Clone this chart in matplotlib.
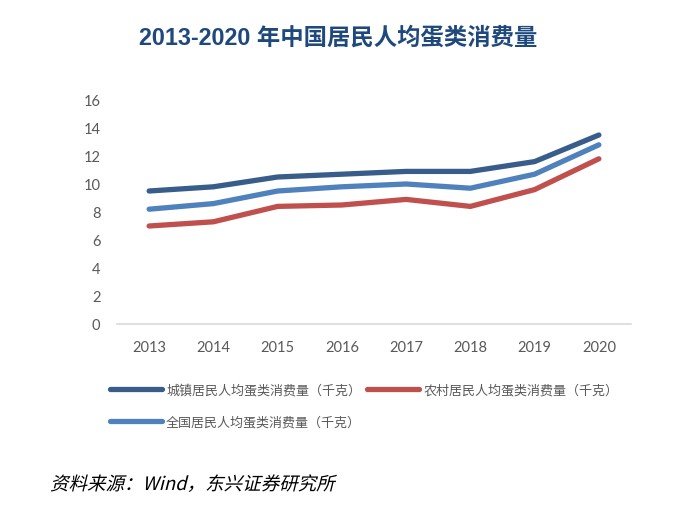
import matplotlib
matplotlib.use('Agg')
import matplotlib.pyplot as plt
from matplotlib.textpath import TextPath
from matplotlib.patches import PathPatch
from matplotlib.font_manager import FontProperties
from matplotlib.transforms import Affine2D

plt.rcParams['font.family'] = ['Noto Sans CJK SC', 'DejaVu Sans']

# data (kg per person)
years = ['2013', '2014', '2015', '2016', '2017', '2018', '2019', '2020']
urban = [9.5, 9.8, 10.5, 10.7, 10.9, 10.9, 11.6, 13.5]
rural = [7.0, 7.3, 8.4, 8.5, 8.9, 8.4, 9.6, 11.8]
national = [8.2, 8.6, 9.5, 9.8, 10.0, 9.7, 10.7, 12.8]
labels = ['城镇居民人均蛋类消费量（千克）', '农村居民人均蛋类消费量（千克）', '全国居民人均蛋类消费量（千克）']
colors = ['#385D8A', '#C0504D', '#4F81BD']
title = '2013-2020 年中国居民人均蛋类消费量'
source = '资料来源：Wind，东兴证券研究所'

W, H = 682, 516
fig = plt.figure(figsize=(W / 100, H / 100), dpi=100)
ax = fig.add_axes([117 / W, 1 - 324 / H, (631 - 117) / W, (324 - 100) / H])

x = list(range(len(years)))
lines = []
for vals, lab, c in zip([urban, rural, national], labels, colors):
    ln, = ax.plot(x, vals, color=c, lw=3.8, solid_capstyle='round', solid_joinstyle='round', label=lab)
    lines.append(ln)

ax.set_xlim(-0.5, len(years) - 0.5)
ax.set_ylim(0, 16)
ax.set_yticks(range(0, 17, 2))
ax.set_xticks(x)
ax.set_xticklabels(years)
for s in ['top', 'right', 'left']:
    ax.spines[s].set_visible(False)
ax.spines['bottom'].set_color('#D9D9D9')
ax.spines['bottom'].set_linewidth(1.2)
ax.tick_params(length=0, labelcolor='#595959', labelsize=10.5)
ax.tick_params(axis='y', pad=12)
ax.tick_params(axis='x', pad=12)
for t in ax.get_xticklabels() + ax.get_yticklabels():
    t.set_family('Lato')

# legend fills column-first, so order: urban, national | rural
order = [0, 2, 1]
leg = ax.legend([lines[i] for i in order], [labels[i] for i in order], ncol=2,
                loc='upper left', bbox_to_anchor=(110 / W, 1 - 384 / H),
                bbox_transform=fig.transFigure, frameon=False, fontsize=9.4,
                handlelength=4.0, handletextpad=0.3, columnspacing=0.45,
                labelspacing=1.45, borderaxespad=0, borderpad=0)
for t in leg.get_texts():
    t.set_color('#595959')

fig.text(338 / W, 1 - 38 / H, title, ha='center', va='center', fontsize=16.8,
         fontweight='bold', color='#1F497D', family=['Liberation Sans', 'Noto Sans CJK SC'])

# italic-looking source line: slant the text path
prop = FontProperties(family='Noto Sans CJK SC')
tp = TextPath((0, 0), source, size=18.5, prop=prop)
tr = Affine2D().skew_deg(14, 0).translate(50, H - 490).scale(1 / W, 1 / H) + fig.transFigure
fig.patches.append(PathPatch(tp, transform=tr, color='black', lw=0))

fig.savefig('out.png', dpi=100)
